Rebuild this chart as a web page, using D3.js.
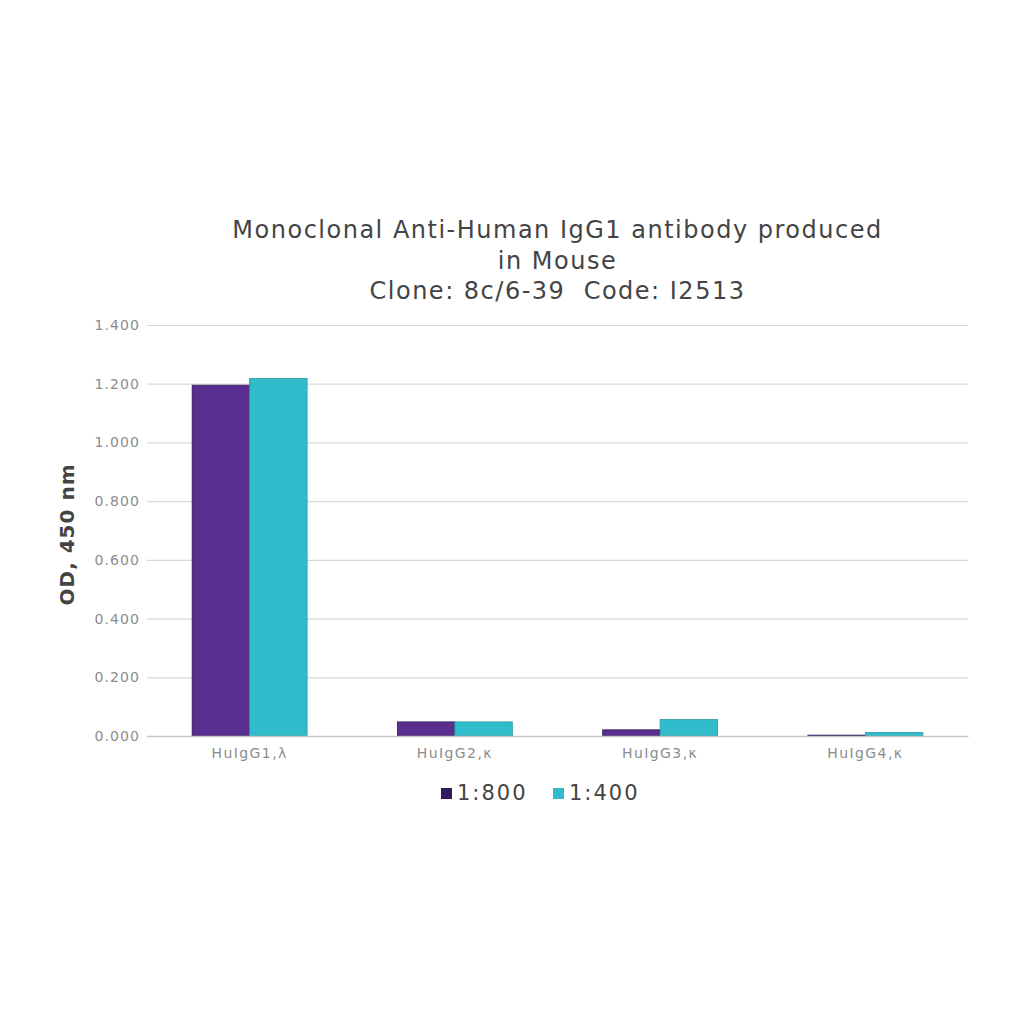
<!DOCTYPE html>
<html>
<head>
<meta charset="utf-8">
<script src="https://cdn.jsdelivr.net/npm/d3@7"></script>
<style>
  body { margin: 0; background: #fff; }
  svg text { font-family: "DejaVu Sans", Verdana, sans-serif !important; white-space: pre; }
</style>
</head>
<body>
<div id="vis"></div>
<script>
const WIDTH = 1024;
const HEIGHT = 1024;

const categories = ["HuIgG1,\u03bb", "HuIgG2,\u03ba", "HuIgG3,\u03ba", "HuIgG4,\u03ba"];
const series = ["1:800", "1:400"];
const values800 = [1.195, 0.048, 0.021, 0.003];
const values400 = [1.218, 0.048, 0.056, 0.012];
const yTicks = [0, 0.2, 0.4, 0.6, 0.8, 1.0, 1.2, 1.4];
const titleLines = ["Monoclonal Anti-Human IgG1 antibody produced", "in Mouse", "Clone: 8c/6-39  Code: I2513"];
const colors = ["#5a2e8e", "#31bccb"];

const margin = { top: 325, right: 56, bottom: 288, left: 147 };
const w = WIDTH - margin.left - margin.right;
const h = HEIGHT - margin.top - margin.bottom;

const SVG = d3.select("#vis").append("svg").attr("width", WIDTH).attr("height", HEIGHT)
  .attr("font-family", "DejaVu Sans, Verdana, sans-serif");
const g = SVG.append("g").attr("transform", "translate(" + margin.left + "," + margin.top + ")");

const escalaX = d3.scaleBand().domain(categories).range([0, w]);
const escalaSub = d3.scaleBand().domain(series).range([escalaX.bandwidth() * 0.22, escalaX.bandwidth() * 0.78]);
const escalaY = d3.scaleLinear().domain([0, 1.4]).range([h, 0]);

// gridlines
g.append("g")
  .call(d3.axisLeft(escalaY).tickValues(yTicks).tickSize(-w).tickFormat(d3.format(".3f")))
  .attr("font-family", null)
  .call(s => s.select(".domain").remove())
  .call(s => s.selectAll(".tick line").attr("stroke", "#d9d9d9").attr("stroke-width", 1.2))
  .call(s => s.selectAll(".tick text").attr("x", -7).attr("fill", "#8c8c8c")
    .attr("font-size", 14).attr("letter-spacing", 1.1));

const data = categories.map((c, i) => ({ cat: c, vals: [values800[i], values400[i]] }));

g.append("g")
  .selectAll("g")
  .data(data)
  .join("g")
  .attr("transform", d => "translate(" + escalaX(d.cat) + ",0)")
  .selectAll("rect")
  .data(d => d.vals.map((v, j) => ({ s: series[j], v: v, j: j })))
  .join("rect")
  .attr("x", d => escalaSub(d.s))
  .attr("width", escalaSub.bandwidth())
  .attr("y", d => escalaY(d.v))
  .attr("height", d => h - escalaY(d.v))
  .attr("fill", d => colors[d.j])
  .attr("stroke", d => d.j === 0 ? "#2e1a5c" : "#2a9aa6")
  .attr("stroke-width", 0.8);

// x axis
g.append("g")
  .attr("transform", "translate(0," + h + ")")
  .call(d3.axisBottom(escalaX).tickSize(0).tickPadding(12))
  .attr("font-family", null)
  .call(s => s.select(".domain").attr("stroke", "#c8c8c8").attr("stroke-width", 1.5))
  .call(s => s.selectAll(".tick text").attr("fill", "#8c8c8c")
    .attr("font-size", 14).attr("letter-spacing", 1.4));

// title
SVG.append("g").selectAll("text")
  .data(titleLines)
  .join("text")
  .attr("x", margin.left + w / 2)
  .attr("y", (d, i) => 238 + i * 30.5)
  .attr("text-anchor", "middle")
  .attr("fill", "#444")
  .attr("font-size", 24)
  .attr("letter-spacing", 1.5)
  .text(d => d);

// y title
SVG.append("text")
  .attr("transform", "translate(74," + (margin.top + h / 2 + 4) + ") rotate(-90)")
  .attr("text-anchor", "middle")
  .attr("fill", "#444")
  .attr("font-size", 20)
  .attr("font-weight", "bold")
  .attr("letter-spacing", 1)
  .text("OD, 450 nm");

// legend
const legend = SVG.append("g").attr("transform", "translate(441,800)");
const items = legend.selectAll("g")
  .data(series)
  .join("g")
  .attr("transform", (d, i) => "translate(" + (i * 112) + ",0)");
items.append("rect")
  .attr("x", 0).attr("y", -12).attr("width", 11).attr("height", 11)
  .attr("fill", (d, i) => i === 0 ? "#2e1a5c" : colors[1]);
items.append("text")
  .attr("x", 16).attr("y", 0)
  .attr("fill", "#444")
  .attr("font-size", 21)
  .attr("letter-spacing", 2)
  .text(d => d);
</script>
</body>
</html>
